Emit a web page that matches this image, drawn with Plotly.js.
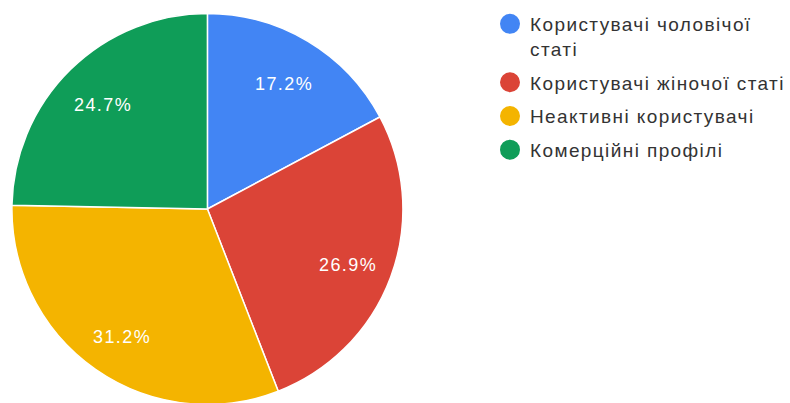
<!DOCTYPE html>
<html><head><meta charset="utf-8">
<script src="https://cdn.plot.ly/plotly-3.0.1.min.js"></script>
<style>html,body{margin:0;padding:0;overflow:hidden;background:#fff}
#c{width:790px;height:500px;margin-top:-40px}
svg text{letter-spacing:1.4px}</style>
</head><body><div id="c"></div>
<script>
var labels = ["Користувачі чоловічої<br>статі", "Користувачі жіночої статі", "Неактивні користувачі", "Комерційні профілі"];
var values = [17.2, 26.9, 31.2, 24.7];
var colors = ["#4285F4", "#DB4437", "#F4B400", "#0F9D58"];

var OFF = 40;
var W = 790, H = 500, cx = 209, cy = 209 + OFF, R = 197;
var traces = [{
  type: "pie",
  labels: labels,
  values: values,
  sort: false,
  direction: "clockwise",
  rotation: 0,
  marker: {colors: colors, line: {color: "#ffffff", width: 1.5}},
  textinfo: "none",
  showlegend: false,
  domain: {x: [(cx - R) / W, (cx + R) / W], y: [(H - cy - R) / H, (H - cy + R) / H]},
  hoverinfo: "none"
}];
for (var i = 0; i < labels.length; i++) {
  traces.push({
    type: "scatter", mode: "markers", x: [null], y: [null],
    name: labels[i], legendgroup: "g" + i,
    marker: {color: colors[i], size: 16, symbol: "circle", line: {color: colors[i], width: 4}},
    hoverinfo: "none"
  });
}
// percentage labels at the middle angle of each slice, at about 3/4 of the radius
var total = values.reduce(function (a, b) { return a + b; }, 0);
var annotations = [];
var cum = 0;
for (var j = 0; j < values.length; j++) {
  var th = 2 * Math.PI * (cum + values[j] / 2) / total;
  cum += values[j];
  var r = 0.765 * R;
  annotations.push({
    xref: "paper", yref: "paper",
    x: (cx + r * Math.sin(th)) / W,
    y: (H - cy + r * Math.cos(th)) / H,
    xanchor: "center", yanchor: "middle", yshift: -4,
    text: (values[j] / total * 100).toFixed(1) + "%",
    showarrow: false,
    font: {color: "#ffffff", size: 18, family: "Liberation Sans, Arial, sans-serif"}
  });
}
var layout = {
  width: W, height: H,
  margin: {l: 0, r: 0, t: 0, b: 0},
  paper_bgcolor: "#ffffff", plot_bgcolor: "#ffffff",
  xaxis: {visible: false, domain: [0.9, 1]},
  yaxis: {visible: false, domain: [0.0, 0.05]},
  annotations: annotations,
  showlegend: true,
  legend: {
    x: 0.625, y: 1 - (OFF + 5) / H, xanchor: "left", yanchor: "top",
    valign: "top",
    font: {family: "Liberation Sans, Arial, sans-serif", size: 19, color: "#333333"},
    tracegroupgap: 6, traceorder: "grouped", itemclick: false
  }
};
Plotly.newPlot("c", traces, layout, {staticPlot: true, displayModeBar: false});
</script></body></html>
